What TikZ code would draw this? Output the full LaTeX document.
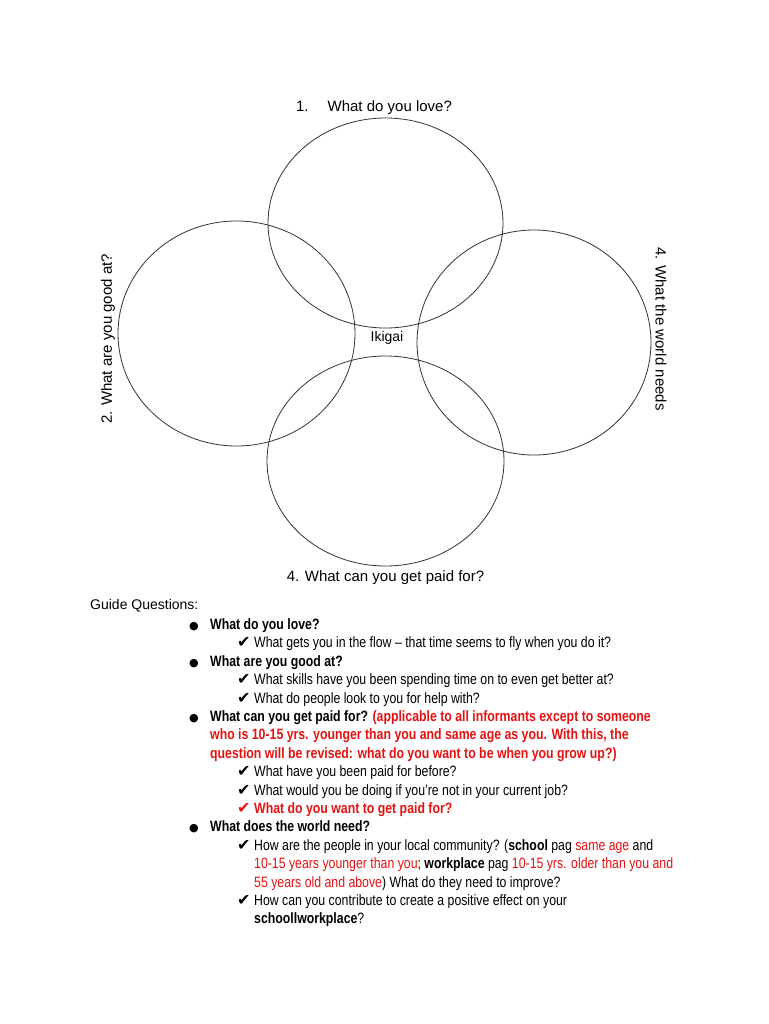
\documentclass[tikz,border=0pt]{standalone}
\usepackage{fontspec}
\setmainfont{Liberation Sans}
\newfontfamily\narrowfont[FakeStretch=0.82]{Liberation Sans}
\newfontfamily\symfont{DejaVu Sans}
\usetikzlibrary{positioning,shapes.geometric}
\definecolor{ired}{RGB}{228,18,18}
\definecolor{ringc}{HTML}{333333}
\tikzset{
  petal/.style = {ellipse, draw=ringc, line width=0.8pt, inner sep=0pt},
  lbl/.style   = {font=\fontsize{15}{18}\selectfont, inner sep=0pt},
  gq/.style    = {anchor=base west, inner sep=0pt,
                  font=\narrowfont\fontsize{15}{18.4}\selectfont},
}
\newcommand{\gqbullet}{\makebox[21pt][l]{\symfont\fontsize{11}{11}\selectfont ●}}
\newcommand{\gqcheck}{\makebox[17pt][l]{\symfont\fontsize{16}{16}\selectfont ✔}}
\newcommand{\hl}[1]{{\color{ired}#1}}

\begin{document}
\begin{tikzpicture}[x=1pt, y=-1pt]
  \useasboundingbox (0,0) rectangle (768,1024);
  \fill[white] (0,0) rectangle (768,1024);

  % the four circles
  \node[petal, minimum width=235pt, minimum height=210pt] (love)  at (385.5,223) {};
  \node[petal, minimum width=237pt, minimum height=225pt] (good)  at (236.5,333.5) {};
  \node[petal, minimum width=234pt, minimum height=225pt] (world) at (534,342.5) {};
  \node[petal, minimum width=237pt, minimum height=210pt] (paid)  at (385.5,461) {};

  \node[lbl, font=\fontsize{14}{16}\selectfont] (ikigai) at (387,338) {Ikigai};
  \node[lbl] (lovelbl)  at (374,108) {1.\hspace{19pt}What do you love?};
  \node[lbl, rotate=90]  (goodlbl)  at (108,339) {2. What are you good at?};
  \node[lbl, rotate=-90] (worldlbl) at (661,329) {4. What the world needs};
  \node[lbl] (paidlbl)  at (385.5,578) {4. What can you get paid for?};

  % guide questions
  \node[lbl, anchor=base west, font=\fontsize{14}{16}\selectfont] (guide) at (90,609) {Guide Questions:};

  \node[gq] (q1)   at (189,629.5) {\gqbullet\textbf{What do you love?}};
  \node[gq] (q1a)  at (237,647.9) {\gqcheck What gets you in the flow – that time seems to fly when you do it?};
  \node[gq] (q2)   at (189,666.3) {\gqbullet\textbf{What are you good at?}};
  \node[gq] (q2a)  at (237,684.7) {\gqcheck What skills have you been spending time on to even get better at?};
  \node[gq] (q2b)  at (237,703.1) {\gqcheck What do people look to you for help with?};
  \node[gq] (q3)   at (189,721.5) {\gqbullet\textbf{What can you get paid for? \hl{(applicable to all informants except to someone}}};
  \node[gq] (q3n1) at (210,739.9) {\textbf{\hl{who is 10-15 yrs. younger than you and same age as you. With this, the}}};
  \node[gq] (q3n2) at (210,758.3) {\textbf{\hl{question will be revised: what do you want to be when you grow up?)}}};
  \node[gq] (q3a)  at (237,776.7) {\gqcheck What have you been paid for before?};
  \node[gq] (q3b)  at (237,795.1) {\gqcheck What would you be doing if you’re not in your current job?};
  \node[gq, text=ired] (q3c) at (237,813.5) {\gqcheck\textbf{What do you want to get paid for?}};
  \node[gq] (q4)   at (189,831.9) {\gqbullet\textbf{What does the world need?}};
  \node[gq] (q4a)  at (237,850.3) {\gqcheck How are the people in your local community? (\textbf{school} pag \hl{same age} and};
  \node[gq] (q4a2) at (254,868.7) {\hl{10-15 years younger than you}; \textbf{workplace} pag \hl{10-15 yrs. older than you and}};
  \node[gq] (q4a3) at (254,887.1) {\hl{55 years old and above}) What do they need to improve?};
  \node[gq] (q4b)  at (237,905.5) {\gqcheck How can you contribute to create a positive effect on your};
  \node[gq] (q4b2) at (254,923.9) {\textbf{schoollworkplace}?};
\end{tikzpicture}
\end{document}
